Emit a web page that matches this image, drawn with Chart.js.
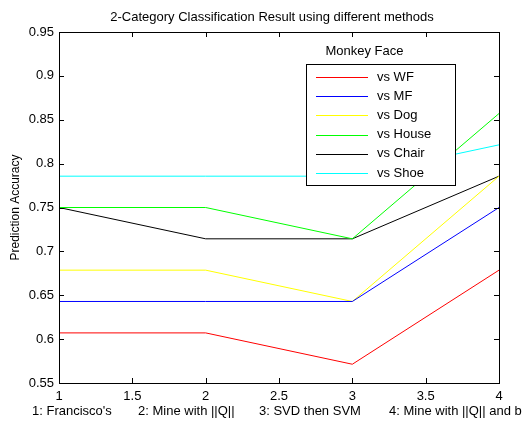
<!DOCTYPE html>
<html>
<head>
<meta charset="utf-8">
<script src="https://cdn.jsdelivr.net/npm/chart.js@4/dist/chart.umd.min.js"></script>
<style>
  html, body { margin: 0; padding: 0; background: #fff; }
  #wrap { width: 532px; height: 423px; position: relative; }
</style>
</head>
<body>
<div id="wrap"><canvas id="c"></canvas></div>
<script>
// ── Data ─────────────────────────────────────────────────────────────────────
const methods = [1, 2, 3, 4];
const methodNames = ["1: Francisco's", '2: Mine with ||Q||', '3: SVD then SVM', '4: Mine with ||Q|| and b'];
const seriesLabels = ['vs WF', 'vs MF', 'vs Dog', 'vs House', 'vs Chair', 'vs Shoe'];
const vsWF    = [0.6071, 0.6071, 0.5714, 0.6786];
const vsMF    = [0.6429, 0.6429, 0.6429, 0.7500];
const vsDog   = [0.6786, 0.6786, 0.6429, 0.7857];
const vsHouse = [0.7500, 0.7500, 0.7143, 0.8571];
const vsChair = [0.7500, 0.7143, 0.7143, 0.7857];
const vsShoe  = [0.7857, 0.7857, 0.7857, 0.8214];
const yTicks = [0.55, 0.6, 0.65, 0.7, 0.75, 0.8, 0.85, 0.9, 0.95];

const seriesColors = ['#ff0000', '#0000ff', '#ffff00', '#00ff00', '#000000', '#00ffff'];
const FONT = "'Liberation Sans', Arial, sans-serif";
const TITLE = '2-Category Classification Result using different methods';

const allSeries = [vsWF, vsMF, vsDog, vsHouse, vsChair, vsShoe];

// ── MATLAB-style box, inward ticks, title, legend and x label ────────────────
const matlabAxes = {
  id: 'matlabAxes',
  afterDraw(chart) {
    const { ctx, chartArea: a, scales } = chart;
    ctx.save();
    ctx.strokeStyle = '#000';
    ctx.lineWidth = 1;
    ctx.strokeRect(Math.round(a.left) + 0.5, Math.round(a.top) + 0.5,
                   Math.round(a.right - a.left), Math.round(a.bottom - a.top));
    const tl = 5;
    ctx.beginPath();
    scales.x.ticks.forEach(t => {
      const px = Math.round(scales.x.getPixelForValue(t.value)) + 0.5;
      ctx.moveTo(px, a.bottom); ctx.lineTo(px, a.bottom - tl);
      ctx.moveTo(px, a.top);    ctx.lineTo(px, a.top + tl);
    });
    scales.y.ticks.forEach(t => {
      const py = Math.round(scales.y.getPixelForValue(t.value)) + 0.5;
      ctx.moveTo(a.left, py);  ctx.lineTo(a.left + tl, py);
      ctx.moveTo(a.right, py); ctx.lineTo(a.right - tl, py);
    });
    ctx.stroke();

    ctx.fillStyle = '#000';
    ctx.textBaseline = 'middle';

    // title, centred on the axes
    ctx.font = '13px ' + FONT;
    ctx.textAlign = 'center';
    ctx.fillText(TITLE, (a.left + a.right) / 2 - 7, 17);

    // x-axis description
    ctx.textAlign = 'left';
    const xs = [32, 138, 259, 389];
    methodNames.forEach((n, i) => ctx.fillText(n, xs[i], 411));

    // legend
    const lx = 306, ly = 64, lw = 149, lh = 121;
    ctx.textAlign = 'center';
    ctx.fillText('Monkey Face', lx + lw / 2 - 16, 51);
    ctx.fillStyle = '#fff';
    ctx.fillRect(lx, ly, lw, lh);
    ctx.strokeStyle = '#000';
    ctx.strokeRect(lx + 0.5, ly + 0.5, lw, lh);
    ctx.textAlign = 'left';
    chart.data.datasets.forEach((ds, i) => {
      const y = ly + 13 + i * 19.2;
      ctx.strokeStyle = ds.borderColor;
      ctx.lineWidth = 1.2;
      ctx.beginPath();
      ctx.moveTo(lx + 10, Math.round(y) + 0.5);
      ctx.lineTo(lx + 62, Math.round(y) + 0.5);
      ctx.stroke();
      ctx.fillStyle = '#000';
      ctx.fillText(ds.label, lx + 71, y);
    });
    ctx.restore();
  }
};

new Chart(document.getElementById('c'), {
  type: 'line',
  data: {
    labels: methods,
    datasets: seriesLabels.map((label, i) => ({
      label,
      data: methods.map((m, j) => ({ x: m, y: allSeries[i][j] })),
      borderColor: seriesColors[i],
      backgroundColor: seriesColors[i],
      borderWidth: 1,
      pointRadius: 0,
      tension: 0,
      fill: false,
    })),
  },
  options: {
    responsive: true,
    maintainAspectRatio: false,
    animation: false,
    events: [],
    layout: { padding: { top: 32, right: 33, bottom: 0, left: 0 } },
    plugins: {
      legend: { display: false },
      tooltip: { enabled: false },
      title: { display: false },
    },
    scales: {
      x: {
        type: 'linear',
        min: 1,
        max: 4,
        grid: { display: false, drawTicks: false },
        border: { display: false },
        ticks: {
          stepSize: 0.5,
          color: '#000',
          padding: 6,
          font: { family: FONT, size: 13 },
          maxRotation: 0,
          autoSkip: false,
          callback: v => String(v),
        },
        afterFit(s) { s.height = 40; },
      },
      y: {
        min: 0.55,
        max: 0.95,
        grid: { display: false, drawTicks: false },
        border: { display: false },
        afterBuildTicks(s) { s.ticks = yTicks.map(v => ({ value: v })); },
        ticks: {
          color: '#000',
          padding: 5,
          font: { family: FONT, size: 13 },
          callback: v => String(+v.toFixed(2)),
        },
        title: {
          display: true,
          text: 'Prediction Accuracy',
          color: '#000',
          font: { family: FONT, size: 12 },
          padding: { top: 8, bottom: 0 },
        },
        afterFit(s) { s.width = 59; },
      },
    },
  },
  plugins: [matlabAxes],
});
</script>
</body>
</html>
